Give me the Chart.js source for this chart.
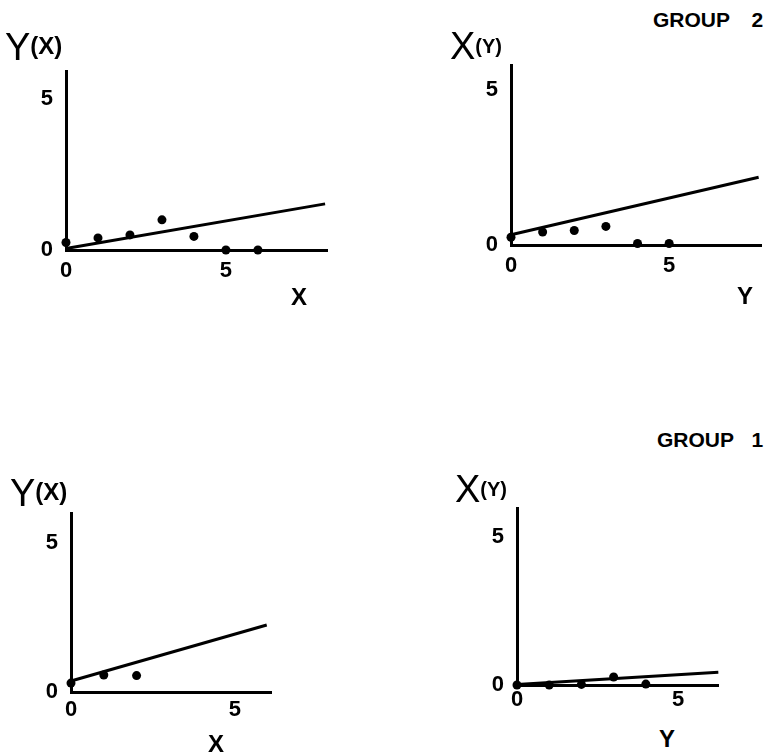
<!DOCTYPE html>
<html>
<head>
<meta charset="utf-8">
<script src="https://cdn.jsdelivr.net/npm/chart.js@4.4.0/dist/chart.umd.min.js"></script>
<style>
body { margin:0; background:#fff; width:766px; height:755px; overflow:hidden; position:relative; font-family:"Liberation Sans", Arial, sans-serif; color:#000; }
canvas { position:absolute; }
.t { position:absolute; line-height:1; white-space:nowrap; }
.nombre { font-size:38px; }
.nombre .yx { font-size:24px; font-weight:bold; position:relative; top:-6px; }
.nombre .xy { font-size:20px; font-weight:bold; position:relative; top:-6px; }
.eje { font-size:24px; font-weight:bold; width:40px; text-align:center; }
.grupo { font-size:21px; font-weight:bold; }
</style>
</head>
<body>
<canvas id="g2yx"></canvas>
<canvas id="g2xy"></canvas>
<canvas id="g1yx"></canvas>
<canvas id="g1xy"></canvas>

<div class="t grupo" style="left:653px; top:9px; word-spacing:16px;">GROUP 2</div>
<div class="t grupo" style="left:657px; top:429px; word-spacing:12px;">GROUP 1</div>

<div class="t nombre" style="left:5px; top:28px;">Y<span class="yx">(X)</span></div>
<div class="t nombre" style="left:450px; top:27px;">X<span class="xy">(Y)</span></div>
<div class="t nombre" style="left:10px; top:474px;">Y<span class="yx">(X)</span></div>
<div class="t nombre" style="left:455px; top:470px;">X<span class="xy">(Y)</span></div>

<div class="t eje" style="left:279px; top:285px;">X</div>
<div class="t eje" style="left:725px; top:284px;">Y</div>
<div class="t eje" style="left:196px; top:732px;">X</div>
<div class="t eje" style="left:647px; top:727px;">Y</div>

<script>
// valores
const ticksEje = [0, 5];

// GROUP 2  Y(X)
const g2yxX = [0, 1, 2, 3, 4, 5, 6];
const g2yxY = [0.25, 0.4, 0.5, 1.0, 0.45, 0, 0];
const g2yxRectaX = [0, 8.1];
const g2yxRectaY = [0.05, 1.53];

// GROUP 2  X(Y)
const g2xyX = [0, 1, 2, 3, 4, 5];
const g2xyY = [0.25, 0.42, 0.47, 0.6, 0.05, 0.05];
const g2xyRectaX = [0, 7.83];
const g2xyRectaY = [0.33, 2.19];

// GROUP 1  Y(X)
const g1yxX = [0, 1, 2];
const g1yxY = [0.3, 0.57, 0.55];
const g1yxRectaX = [0, 5.97];
const g1yxRectaY = [0.37, 2.25];

// GROUP 1  X(Y)
const g1xyX = [0, 1, 2, 3, 4];
const g1xyY = [0, 0, 0.02, 0.27, 0.03];
const g1xyRectaX = [0, 6.25];
const g1xyRectaY = [0.02, 0.43];

const fuenteTicks = {family: "'Liberation Sans', Arial, sans-serif", size: 22, weight: 'bold'};

function crearPanel(id, area, xMax, yMax, padX, puntosX, puntosY, rectaX, rectaY){

    const izq = area.l - 60;
    const arriba = area.t - 20;
    const derecha = Math.min(area.r + 8, 766);
    const canvas = document.getElementById(id);
    canvas.width = derecha - izq;
    canvas.height = area.b + 40 - arriba;
    canvas.style.left = izq + 'px';
    canvas.style.top = arriba + 'px';

    new Chart(canvas, {
        type: 'scatter',
        data: {
            datasets: [{
                data: puntosX.map((x, i) => ({x: x, y: puntosY[i]})),
                showLine: false,
                pointRadius: 4.5,
                pointBackgroundColor: '#000',
                pointBorderWidth: 0,
                clip: false
            }, {
                data: rectaX.map((x, i) => ({x: x, y: rectaY[i]})),
                showLine: true,
                borderColor: '#000',
                borderWidth: 3,
                pointRadius: 0,
                clip: false
            }]
        },
        options: {
            responsive: false,
            animation: false,
            devicePixelRatio: 1,
            layout: {padding: {top: 20, right: derecha - area.r, left: 0, bottom: 0}},
            plugins: {legend: {display: false}, tooltip: {enabled: false}},
            scales: {
                x: {
                    type: 'linear', min: 0, max: xMax,
                    grid: {display: false, drawTicks: false},
                    border: {display: true, color: '#000', width: 3},
                    ticks: {padding: padX, font: fuenteTicks, color: '#000'},
                    afterBuildTicks: s => { s.ticks = ticksEje.map(v => ({value: v})); },
                    afterFit: s => { s.height = 40; }
                },
                y: {
                    type: 'linear', min: 0, max: yMax,
                    grid: {display: false, drawTicks: false},
                    border: {display: true, color: '#000', width: 3},
                    ticks: {padding: 13, font: fuenteTicks, color: '#000'},
                    afterBuildTicks: s => { s.ticks = ticksEje.map(v => ({value: v})); },
                    afterFit: s => { s.width = 60; }
                }
            }
        }
    });
}

crearPanel("g2yx", {l: 66, r: 327, t: 65, b: 250}, 8.16, 5.93, 8, g2yxX, g2yxY, g2yxRectaX, g2yxRectaY);
crearPanel("g2xy", {l: 511, r: 766, t: 59, b: 245}, 7.92, 5.81, 8, g2xyX, g2xyY, g2xyRectaX, g2xyRectaY);
crearPanel("g1yx", {l: 71, r: 271, t: 507, b: 692}, 6.1, 6.0, 5, g1yxX, g1yxY, g1yxRectaX, g1yxRectaY);
crearPanel("g1xy", {l: 517, r: 718, t: 502, b: 685}, 6.24, 5.98, 2, g1xyX, g1xyY, g1xyRectaX, g1xyRectaY);
</script>
</body>
</html>
